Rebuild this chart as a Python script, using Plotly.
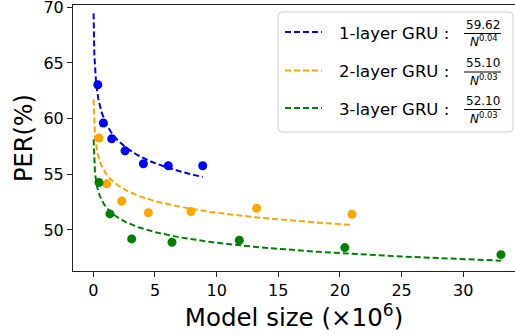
import numpy as np
import plotly.graph_objects as go

# ---- data ----
size_1 = [0.36, 0.81, 1.49, 2.57, 4.06, 6.08, 8.87]
per_1 = [63.04, 59.6, 58.18, 57.1, 55.94, 55.76, 55.76]
size_2 = [0.46, 1.09, 2.3, 4.46, 7.92, 13.25, 20.98]
per_2 = [58.25, 54.14, 52.6, 51.55, 51.65, 51.95, 51.41]
size_3 = [0.46, 1.35, 3.11, 6.38, 11.84, 20.4, 33.06]
per_3 = [54.25, 51.44, 49.19, 48.89, 49.07, 48.41, 47.78]

series_names = ["1-layer GRU", "2-layer GRU", "3-layer GRU"]
fit_coef = [59.62, 55.10, 52.10]
fit_exp = [0.039, 0.029, 0.028]          # fitted exponent as drawn
fit_exp_label = ["0.04", "0.03", "0.03"]  # exponent as shown in legend
fit_coef_label = ["59.62", "55.10", "52.10"]
fit_start = 0.02
colors = ["blue", "orange", "green"]

x_ticks = [0, 5, 10, 15, 20, 25, 30]
y_ticks = [50, 55, 60, 65, 70]

sizes = [size_1, size_2, size_3]
pers = [per_1, per_2, per_3]

FONT = "DejaVu Sans"
fig = go.Figure()

for name, xs, ys, c, a, b in zip(series_names, sizes, pers, colors, fit_coef, fit_exp):
    xf = np.geomspace(fit_start, max(xs), 300)
    yf = a / xf ** b
    fig.add_trace(go.Scatter(x=xf, y=yf, mode="lines", name=name,
                             line=dict(color=c, width=2, dash="6px,3px"),
                             showlegend=False, hoverinfo="skip"))
    fig.add_trace(go.Scatter(x=xs, y=ys, mode="markers", name=name + " data",
                             marker=dict(color=c, size=9), showlegend=False))

# plot area in pixels
W_FIG, H_FIG = 515, 335
L, R, T, B = 73, 515, 5, 271
PW, PH = R - L, B - T

def px(X):
    return (X - L) / PW

def py(Y):
    return (B - Y) / PH

shapes = []
annotations = []

# legend frame (rounded)
x0, x1, y0, y1 = px(278), px(513), py(12), py(132)
rx, ry = 4 / PW, 4 / PH
path = (f"M {x0+rx},{y0} L {x1-rx},{y0} Q {x1},{y0} {x1},{y0-ry} "
        f"L {x1},{y1+ry} Q {x1},{y1} {x1-rx},{y1} L {x0+rx},{y1} "
        f"Q {x0},{y1} {x0},{y1+ry} L {x0},{y0-ry} Q {x0},{y0} {x0+rx},{y0} Z")
shapes.append(dict(type="path", path=path, xref="paper", yref="paper",
                   line=dict(color="#d0d0d0", width=1),
                   fillcolor="rgba(255,255,255,0.8)", layer="above"))

rows = [32, 70.5, 108]
for i, yc in enumerate(rows):
    shapes.append(dict(type="line", xref="paper", yref="paper",
                       x0=px(285), x1=px(322), y0=py(yc), y1=py(yc),
                       line=dict(color=colors[i], width=2, dash="6px,3px"),
                       layer="above"))
    annotations.append(dict(text=series_names[i] + " :", x=px(337), y=py(yc + 1),
                            xref="paper", yref="paper", xanchor="left", yanchor="middle",
                            showarrow=False, font=dict(family=FONT, size=16.5, color="black")))
    annotations.append(dict(text=fit_coef_label[i], x=px(482.5), y=py(yc - 7.5),
                            xref="paper", yref="paper", xanchor="center", yanchor="middle",
                            showarrow=False, font=dict(family=FONT, size=12, color="black")))
    annotations.append(dict(text="<i>N</i><sup>" + fit_exp_label[i] + "</sup>",
                            x=px(484), y=py(yc + 9.5),
                            xref="paper", yref="paper", xanchor="center", yanchor="middle",
                            showarrow=False, font=dict(family=FONT, size=12, color="black")))
    shapes.append(dict(type="line", xref="paper", yref="paper",
                       x0=px(464), x1=px(501), y0=py(yc + 1.5), y1=py(yc + 1.5),
                       line=dict(color="black", width=1), layer="above"))

axis_common = dict(showline=True, linecolor="#222", linewidth=1, mirror=True,
                   ticks="outside", ticklen=5, tickwidth=1, tickcolor="#222",
                   showgrid=False, zeroline=False, automargin=False,
                   ticklabeloverflow="allow",
                   tickfont=dict(family=FONT, size=16, color="black"))

fig.update_layout(
    width=W_FIG, height=H_FIG,
    margin=dict(l=L, r=W_FIG - R, t=T, b=H_FIG - B),
    plot_bgcolor="white", paper_bgcolor="white",
    xaxis=dict(range=[-1.65, 34.2], tickvals=x_ticks,
               title=dict(text="Model size (×10<sup>6</sup>)",
                          font=dict(family=FONT, size=24.5, color="black"), standoff=2),
               **axis_common),
    yaxis=dict(range=[46.31, 70.2], tickvals=y_ticks,
               title=dict(text="PER(%)", font=dict(family=FONT, size=24, color="black"),
                          standoff=4),
               **axis_common),
    shapes=shapes, annotations=annotations, showlegend=False,
)

fig.write_html("out.html", config={"displayModeBar": False},
               post_script="document.body.style.margin='0';document.body.style.overflow='hidden';")
